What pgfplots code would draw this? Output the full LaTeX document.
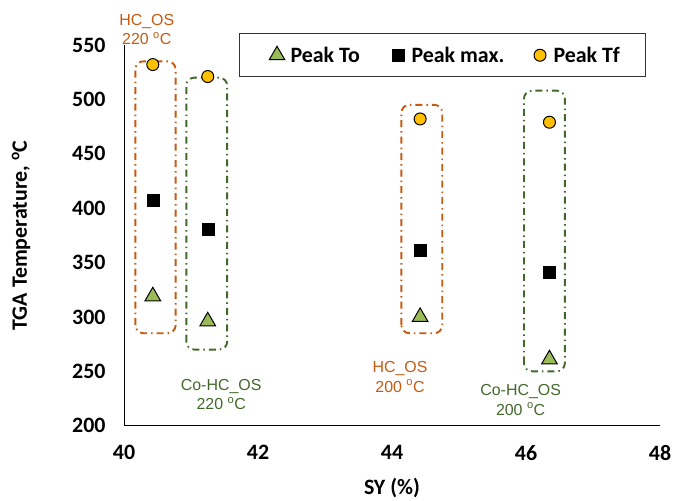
\documentclass[border=0pt]{standalone}
\usepackage{fontspec}
\setmainfont{Carlito}
\newfontfamily\arialfont{Liberation Sans}
\usepackage{pgfplots}
\usepackage{pgfplotstable}
\pgfplotsset{compat=1.18}

\definecolor{hcorange}{HTML}{C55A11}
\definecolor{cogreen}{HTML}{43682B}
\definecolor{tofill}{HTML}{9BBB59}
\definecolor{tffill}{HTML}{FFC000}

% SY (%), peak onset, peak max, peak final temperature
\pgfplotstableread{
sy    to   pmax  tf
40.43 319  407   532
41.25 296  381   521
44.42 300  361   482
46.35 261  341   479
}\tgadata

\tikzset{
  grpbox/.style={line width=1.9bp, rounded corners=8bp,
    dash pattern=on 7bp off 4bp on 1.5bp off 4bp},
  grplabel/.style={font=\arialfont\mdseries\fontsize{16}{19.5}\selectfont, align=center}
}

\begin{document}
\begin{tikzpicture}[font=\fontsize{22}{26}\selectfont\bfseries]
\useasboundingbox (0,0) rectangle (673bp,501bp);
\begin{axis}[
  at={(124bp,75.3bp)}, anchor=south west,
  scale only axis, width=536bp, height=380.7bp,
  xmin=40, xmax=48, ymin=200, ymax=550,
  xtick={40,42,...,48}, ytick={200,250,...,550},
  axis lines=left, axis line style={-, line width=1bp, black},
  major tick length=0pt,
  /pgf/number format/assume math mode=true,
  ticklabel style={font=\fontsize{22}{26}\selectfont\bfseries},
  yticklabel style={xshift=-15bp},
  xticklabel style={yshift=-16bp},
  xlabel={SY (\%)},
  ylabel={TGA Temperature, \textsuperscript{o}C},
  xlabel style={at={(axis description cs:0.5,-0.164)}, anchor=center},
  ylabel style={at={(axis description cs:-0.192,0.5)}, anchor=center},
  clip=false,
  legend columns=-1,
  legend image code/.code={\draw[#1] plot coordinates {(0bp,0bp)};
    \path (-8bp,0bp) (11bp,0bp);},
  legend style={at={(0.2146,1.0307)}, anchor=north west, draw=black!80,
    line width=1bp, inner xsep=29bp, inner ysep=11bp,
    nodes={inner sep=2bp}},
]
% group outlines
\draw[grpbox, hcorange] (axis cs:40.17,285) rectangle (axis cs:40.77,535);
\draw[grpbox, cogreen] (axis cs:40.93,270) rectangle (axis cs:41.54,520);
\draw[grpbox, hcorange] (axis cs:44.14,285) rectangle (axis cs:44.75,495);
\draw[grpbox, cogreen] (axis cs:45.97,250) rectangle (axis cs:46.58,508);

\addplot[only marks, mark=triangle*, mark size=9bp,
  mark options={fill=tofill, draw=black, line width=1bp}]
  table[x=sy, y=to] {\tgadata};
\addplot[only marks, mark=square*, mark size=6bp,
  mark options={fill=black, draw=black}]
  table[x=sy, y=pmax] {\tgadata};
\addplot[only marks, mark=*, mark size=6bp,
  mark options={fill=tffill, draw=black, line width=1bp}]
  table[x=sy, y=tf] {\tgadata};
\legend{\makebox[97bp][l]{Peak To}, \makebox[118bp][l]{Peak max.}, \makebox[61bp][l]{Peak Tf}}

\node[grplabel, text=hcorange] at (axis cs:40.34,564) {HC\_OS\\220 \textsuperscript{o}C};
\node[grplabel, text=cogreen] at (axis cs:41.45,228.7) {Co-HC\_OS\\220 \textsuperscript{o}C};
\node[grplabel, text=hcorange] at (axis cs:44.12,244.8) {HC\_OS\\200 \textsuperscript{o}C};
\node[grplabel, text=cogreen] at (axis cs:45.92,223.6) {Co-HC\_OS\\200 \textsuperscript{o}C};
\end{axis}
\end{tikzpicture}
\end{document}
